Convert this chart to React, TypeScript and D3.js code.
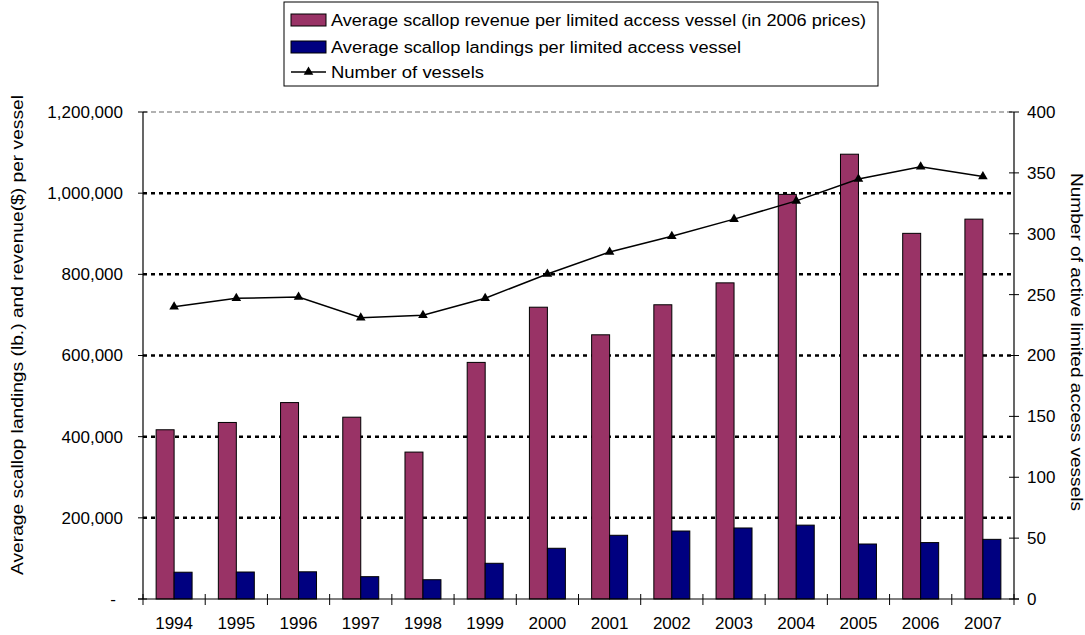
import React from "react";
import * as d3 from "d3";

const years = ["1994","1995","1996","1997","1998","1999","2000","2001","2002","2003","2004","2005","2006","2007"];
const revenue = [417000, 435000, 484000, 448000, 362000, 583000, 719000, 651000, 725000, 779000, 997000, 1096000, 901000, 936000];
const landings = [66000, 66500, 67000, 55000, 47500, 88000, 125000, 157000, 167500, 175000, 182000, 135500, 139000, 147000];
const vessels = [240, 247, 248, 231, 233, 247, 267, 285, 298, 312, 327, 345, 355, 347];
const leftTicks = [0, 200000, 400000, 600000, 800000, 1000000, 1200000];
const rightTicks = [0, 50, 100, 150, 200, 250, 300, 350, 400];
const seriesNames = [
  "Average scallop revenue per limited access vessel (in 2006 prices)",
  "Average scallop landings per limited access vessel",
  "Number of vessels",
];

const REV = "#993366";
const LAND = "#000080";
const FONT = "Liberation Sans, Arial, sans-serif";

export default function App() {
  const L = 143, R = 1014, T = 112, B = 599;
  const x = d3.scaleBand<string>().domain(years).range([L, R]).padding(0);
  const sub = d3.scaleBand<string>().domain(["rev", "land"]).range([0, x.bandwidth()]).paddingInner(0).paddingOuter(0.73);
  const yL = d3.scaleLinear().domain([0, 1200000]).range([B, T]);
  const yR = d3.scaleLinear().domain([0, 400]).range([B, T]);
  const fmt = d3.format(",");
  const line = d3.line<number>().x((_, i) => (x(years[i]) as number) + x.bandwidth() / 2).y((v) => yR(v));
  const tri = d3.symbol().type(d3.symbolTriangle).size(40);
  const TF = 17;

  return (
    <svg width={1085} height={635} style={{ position: "absolute", left: 0, top: 0, background: "#fff" }} fontFamily={FONT}>
      {/* gridlines */}
      {leftTicks.filter((t) => t > 0).map((t) => (
        <line key={"g" + t} x1={L} x2={R} y1={yL(t)} y2={yL(t)}
          stroke={t === 1200000 ? "#999" : "#000"} strokeWidth={t === 1200000 ? 1.5 : 2.5}
          strokeDasharray={t === 1200000 ? "5,3" : "4,4"} />
      ))}
      {/* bars */}
      {years.map((yr, i) => (
        <g key={yr}>
          <rect x={(x(yr) as number) + (sub("rev") as number)} y={yL(revenue[i])} width={sub.bandwidth()} height={B - yL(revenue[i])}
            fill={REV} stroke="#000" strokeWidth={1} />
          <rect x={(x(yr) as number) + (sub("land") as number)} y={yL(landings[i])} width={sub.bandwidth()} height={B - yL(landings[i])}
            fill={LAND} stroke="#000" strokeWidth={1} />
        </g>
      ))}
      {/* line */}
      <path d={line(vessels) || ""} fill="none" stroke="#000" strokeWidth={1.5} />
      {vessels.map((v, i) => (
        <path key={"m" + i} d={tri() || ""} transform={`translate(${(x(years[i]) as number) + x.bandwidth() / 2},${yR(v)})`} fill="#000" />
      ))}
      {/* axes */}
      <line x1={L} x2={L} y1={T} y2={B} stroke="#000" strokeWidth={1.2} />
      <line x1={R} x2={R} y1={T} y2={B} stroke="#000" strokeWidth={1.2} />
      <line x1={L - 5} x2={R + 5} y1={B} y2={B} stroke="#000" strokeWidth={1.2} />
      {leftTicks.map((t) => (
        <g key={"lt" + t}>
          <line x1={L - 5} x2={L + 4} y1={yL(t)} y2={yL(t)} stroke="#000" />
          <text x={t === 0 ? 116 : 123} y={yL(t)} dy="0.35em" textAnchor="end" fontSize={TF}>{t === 0 ? "-" : fmt(t)}</text>
        </g>
      ))}
      {rightTicks.map((t) => (
        <g key={"rt" + t}>
          <line x1={R - 5} x2={R + 5} y1={yR(t)} y2={yR(t)} stroke="#000" />
          <text x={R + 13} y={yR(t)} dy="0.35em" textAnchor="start" fontSize={TF}>{t}</text>
        </g>
      ))}
      {years.map((yr, i) => (
        <g key={"xt" + yr}>
          <line x1={x(yr) as number} x2={x(yr) as number} y1={B - 5} y2={B + 6} stroke="#000" />
          <text x={(x(yr) as number) + x.bandwidth() / 2} y={629} textAnchor="middle" fontSize={TF}>{yr}</text>
        </g>
      ))}
      <line x1={R} x2={R} y1={B - 5} y2={B + 6} stroke="#000" />
      {/* axis titles */}
      <text transform="translate(23,335) rotate(-90)" textAnchor="middle" fontSize={16} textLength={480} lengthAdjust="spacingAndGlyphs">
        Average scallop landings (lb.) and revenue($) per vessel
      </text>
      <text transform="translate(1071,342) rotate(90)" textAnchor="middle" fontSize={16} textLength={338} lengthAdjust="spacingAndGlyphs">
        Number of active limited access vessels
      </text>
      {/* legend */}
      <rect x={284} y={2} width={594} height={84} fill="#fff" stroke="#000" strokeWidth={1} />
      <rect x={291} y={14} width={35} height={12} fill={REV} stroke="#000" />
      <text x={331} y={20} dy="0.35em" fontSize={16} textLength={535} lengthAdjust="spacingAndGlyphs">{seriesNames[0]}</text>
      <rect x={291} y={41} width={35} height={12} fill={LAND} stroke="#000" />
      <text x={331} y={47} dy="0.35em" fontSize={16} textLength={410} lengthAdjust="spacingAndGlyphs">{seriesNames[1]}</text>
      <line x1={291} x2={326} y1={72} y2={72} stroke="#000" strokeWidth={1.5} />
      <path d={tri() || ""} transform="translate(308.5,72)" fill="#000" />
      <text x={331} y={72} dy="0.35em" fontSize={16} textLength={153} lengthAdjust="spacingAndGlyphs">{seriesNames[2]}</text>
    </svg>
  );
}
